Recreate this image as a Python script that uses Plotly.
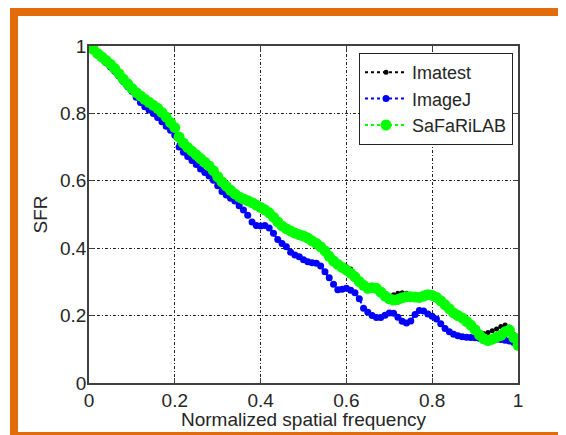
import plotly.graph_objects as go

freq = [round(i * 0.01, 2) for i in range(101)]

safarilab = [
    1.000, 0.990, 0.978, 0.967, 0.957, 0.946, 0.933, 0.918, 0.902, 0.888,
    0.874, 0.862, 0.852, 0.842, 0.833, 0.824, 0.815, 0.803, 0.789, 0.773,
    0.758, 0.730, 0.712, 0.699, 0.688, 0.677, 0.666, 0.655, 0.644, 0.630,
    0.612, 0.597, 0.584, 0.572, 0.561, 0.552, 0.546, 0.541, 0.535, 0.528,
    0.521, 0.514, 0.505, 0.492, 0.478, 0.466, 0.458, 0.451, 0.445, 0.440,
    0.436, 0.430, 0.422, 0.414, 0.404, 0.392, 0.376, 0.362, 0.352, 0.343,
    0.335, 0.326, 0.315, 0.301, 0.290, 0.281, 0.283, 0.281, 0.270, 0.258,
    0.250, 0.246, 0.248, 0.253, 0.256, 0.256, 0.255, 0.254, 0.258, 0.262,
    0.260, 0.254, 0.244, 0.232, 0.220, 0.208, 0.200, 0.193, 0.183, 0.172,
    0.158, 0.143, 0.131, 0.126, 0.130, 0.136, 0.141, 0.152, 0.157, 0.135,
    0.112,
]

imagej = [
    1.000, 0.988, 0.975, 0.962, 0.950, 0.938, 0.925, 0.911, 0.895, 0.880,
    0.866, 0.848, 0.832, 0.820, 0.810, 0.800, 0.788, 0.775, 0.762, 0.750,
    0.735, 0.700, 0.685, 0.672, 0.660, 0.648, 0.635, 0.625, 0.614, 0.602,
    0.585, 0.568, 0.558, 0.548, 0.540, 0.526, 0.513, 0.498, 0.478, 0.467,
    0.466, 0.467, 0.460, 0.444, 0.426, 0.414, 0.404, 0.388, 0.380, 0.375,
    0.366, 0.360, 0.357, 0.355, 0.347, 0.330, 0.312, 0.293, 0.277, 0.278,
    0.281, 0.275, 0.268, 0.250, 0.222, 0.210, 0.200, 0.194, 0.194, 0.201,
    0.208, 0.207, 0.195, 0.183, 0.178, 0.184, 0.203, 0.215, 0.214, 0.205,
    0.198, 0.190, 0.176, 0.162, 0.152, 0.145, 0.140, 0.137, 0.136, 0.135,
    0.134, 0.133, 0.132, 0.131, 0.131, 0.130, 0.129, 0.127, 0.125, 0.120,
    0.115,
]

imatest = [
    1.000, 0.991, 0.980, 0.969, 0.959, 0.948, 0.935, 0.920, 0.905, 0.891,
    0.877, 0.865, 0.855, 0.845, 0.836, 0.827, 0.818, 0.806, 0.792, 0.776,
    0.761, 0.733, 0.715, 0.702, 0.691, 0.680, 0.669, 0.658, 0.647, 0.633,
    0.615, 0.600, 0.587, 0.575, 0.564, 0.555, 0.549, 0.544, 0.538, 0.531,
    0.524, 0.517, 0.508, 0.495, 0.481, 0.469, 0.461, 0.454, 0.448, 0.443,
    0.439, 0.433, 0.425, 0.417, 0.407, 0.395, 0.379, 0.365, 0.356, 0.348,
    0.345, 0.338, 0.320, 0.305, 0.293, 0.284, 0.286, 0.284, 0.273, 0.262,
    0.258, 0.262, 0.266, 0.268, 0.266, 0.262, 0.258, 0.258, 0.261, 0.265,
    0.263, 0.257, 0.247, 0.235, 0.223, 0.211, 0.203, 0.196, 0.186, 0.175,
    0.162, 0.150, 0.147, 0.150, 0.155, 0.160, 0.168, 0.172, 0.166, 0.145,
    0.125,
]

tick_vals = [0, 0.2, 0.4, 0.6, 0.8, 1]
tick_text = ["0", "0.2", "0.4", "0.6", "0.8", "1"]

FONT = "Liberation Sans, Arial, sans-serif"
TXT = "#262626"
OFF = 8  # page body margin
W, H = 566 - OFF, 435 - OFF
L, R, T, B = 89 - OFF, 48, 46 - OFF, 52
PW, PH = W - L - R, H - T - B


def px_x(p):
    return (p - OFF - L) / PW


def px_y(p):
    return (H - B - (p - OFF)) / PH


fig = go.Figure()
series = [
    ("Imatest", imatest, "#000000", 5),
    ("ImageJ", imagej, "#0000FF", 7),
    ("SaFaRiLAB", safarilab, "#00FF00", 11),
]
for name, vals, col, ms in series:
    fig.add_trace(go.Scatter(
        x=freq, y=vals, name=name, mode="lines+markers",
        line=dict(color=col, width=2, dash="dot"),
        marker=dict(color=col, size=ms, symbol="circle", line=dict(width=0)),
    ))

axis_common = dict(
    range=[0, 1], tickvals=tick_vals, ticktext=tick_text,
    showgrid=True, gridcolor="#222222", griddash="3px,2px,1px,2px", gridwidth=1,
    showline=True, mirror="ticks", linecolor="#404040", linewidth=1.5,
    ticks="inside", ticklen=5, tickcolor="#404040", tickwidth=1,
    zeroline=False, tickfont=dict(family=FONT, size=19, color=TXT),
    fixedrange=True,
)

fig.update_layout(
    width=W, height=H,
    margin=dict(l=L, r=R, t=T, b=B, pad=0),
    paper_bgcolor="white", plot_bgcolor="white",
    font=dict(family=FONT, size=19, color=TXT),
    xaxis=dict(axis_common, ticklabelstandoff=-1),
    yaxis=dict(axis_common, ticklabelstandoff=-3),
    showlegend=True,
    legend=dict(
        x=px_x(513), y=px_y(53), xanchor="right", yanchor="top",
        bgcolor="white", bordercolor="#222222", borderwidth=1,
        font=dict(family=FONT, size=18, color=TXT),
        itemwidth=42, tracegroupgap=0,
    ),
    annotations=[
        dict(text="Normalized spatial frequency", xref="paper", yref="paper",
             x=0.5, y=px_y(420), xanchor="center", yanchor="middle",
             showarrow=False, font=dict(family=FONT, size=19, color=TXT)),
        dict(text="SFR", xref="paper", yref="paper", textangle=-90,
             x=px_x(40), y=0.5, xanchor="center", yanchor="middle",
             showarrow=False, font=dict(family=FONT, size=19, color=TXT)),
    ],
    shapes=[
        dict(type="rect", xref="paper", yref="paper",
             x0=px_x(10), x1=px_x(566), y0=px_y(16), y1=px_y(8),
             fillcolor="#E36C0A", line=dict(width=0), layer="above"),
        dict(type="rect", xref="paper", yref="paper",
             x0=px_x(10), x1=px_x(18), y0=px_y(435), y1=px_y(8),
             fillcolor="#E36C0A", line=dict(width=0), layer="above"),
        dict(type="rect", xref="paper", yref="paper",
             x0=px_x(10), x1=px_x(566), y0=px_y(435), y1=px_y(432),
             fillcolor="#E36C0A", line=dict(width=0), layer="above"),
    ],
)

fig.write_html("out.html")
